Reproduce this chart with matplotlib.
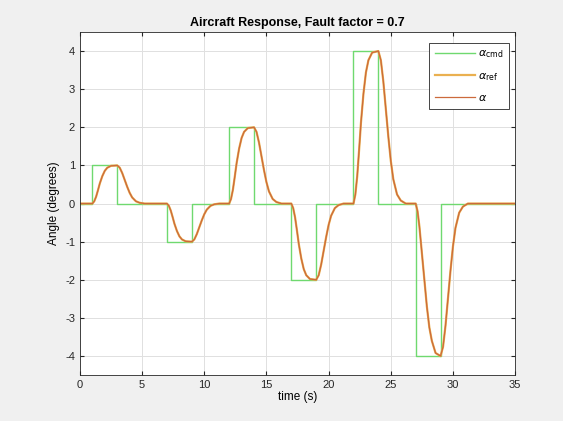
import matplotlib.pyplot as plt

# commanded angle (step pulses)
cmd_t = [0, 1, 1, 3, 3, 7, 7, 9, 9, 12, 12, 14, 14, 17, 17, 19, 19,
         22, 22, 24, 24, 27, 27, 29, 29, 35]
cmd_v = [0, 0, 1, 1, 0, 0, -1, -1, 0, 0, 2, 2, 0, 0, -2, -2, 0,
         0, 4, 4, 0, 0, -4, -4, 0, 0]

# reference model response
ref_t = [0,
         1, 1.15, 1.3, 1.45, 1.6, 1.8, 2.0, 2.2, 2.5, 3.0,
         3.2, 3.4, 3.6, 3.8, 4.0, 4.2, 4.5, 4.8, 5.2,
         7, 7.15, 7.3, 7.45, 7.6, 7.8, 8.0, 8.2, 8.5, 9.0,
         9.2, 9.4, 9.6, 9.8, 10.0, 10.2, 10.5, 10.8, 11.2,
         12, 12.15, 12.3, 12.45, 12.6, 12.8, 13.0, 13.2, 13.5, 14.0,
         14.2, 14.4, 14.6, 14.8, 15.0, 15.2, 15.5, 15.8, 16.2,
         17, 17.15, 17.3, 17.45, 17.6, 17.8, 18.0, 18.2, 18.5, 19.0,
         19.2, 19.4, 19.6, 19.8, 20.0, 20.2, 20.5, 20.8, 21.2,
         22, 22.15, 22.3, 22.45, 22.6, 22.8, 23.0, 23.2, 23.5, 24.0,
         24.2, 24.4, 24.6, 24.8, 25.0, 25.2, 25.5, 25.8, 26.2,
         27, 27.15, 27.3, 27.5, 27.7, 27.9, 28.1, 28.3, 28.6, 29.0,
         29.2, 29.4, 29.6, 29.8, 30.0, 30.2, 30.5, 30.8, 31.2,
         35]
ref_v = [0,
         0, 0.06, 0.18, 0.35, 0.53, 0.72, 0.86, 0.94, 0.99, 1.0,
         0.94, 0.8, 0.62, 0.44, 0.28, 0.16, 0.06, 0.02, 0,
         0, -0.06, -0.18, -0.35, -0.53, -0.72, -0.86, -0.94, -0.99, -1.0,
         -0.94, -0.8, -0.62, -0.44, -0.28, -0.16, -0.06, -0.02, 0,
         0, 0.12, 0.36, 0.7, 1.06, 1.44, 1.72, 1.88, 1.98, 2.0,
         1.88, 1.6, 1.24, 0.88, 0.56, 0.32, 0.12, 0.04, 0,
         0, -0.12, -0.36, -0.7, -1.06, -1.44, -1.72, -1.88, -1.98, -2.0,
         -1.88, -1.6, -1.24, -0.88, -0.56, -0.32, -0.12, -0.04, 0,
         0, 0.24, 0.72, 1.4, 2.12, 2.88, 3.44, 3.76, 3.96, 4.0,
         3.76, 3.2, 2.48, 1.76, 1.12, 0.64, 0.24, 0.08, 0,
         0, -0.2, -0.6, -1.3, -2.0, -2.7, -3.25, -3.6, -3.92, -4.0,
         -3.76, -3.2, -2.48, -1.76, -1.12, -0.64, -0.24, -0.08, 0,
         0]

# actual response sits on top of the reference
alpha_t = ref_t
alpha_v = ref_v

plt.rcParams['font.family'] = ['Liberation Sans', 'DejaVu Sans']
plt.rcParams['axes.unicode_minus'] = False

fig = plt.figure(figsize=(5.63, 4.21), dpi=100, facecolor='#f0f0f0')
ax = fig.add_axes([0.142, 0.109, 0.773, 0.815])

ax.plot(cmd_t, cmd_v, color='#6fd96f', lw=1.0, label=r'$\alpha_{\rm cmd}$')
ax.plot(ref_t, ref_v, color='#eab050', lw=1.6, label=r'$\alpha_{\rm ref}$')
ax.plot(alpha_t, alpha_v, color='#cc6a3c', lw=0.9, label=r'$\alpha$')

ax.set_xlim(0, 35)
ax.set_ylim(-4.5, 4.5)
ax.set_xticks(range(0, 36, 5))
ax.set_yticks(range(-4, 5))
ax.grid(True, color='#e0e0e0', lw=0.7)
ax.set_axisbelow(True)
ax.tick_params(direction='in', top=True, right=True, labelsize=8,
               colors='#262626', length=3)
for s in ax.spines.values():
    s.set_color('#262626')
    s.set_linewidth(0.6)

ax.set_xlabel('time (s)', fontsize=8.5, labelpad=1)
ax.set_ylabel('Angle (degrees)', fontsize=8.5)
ax.set_title('Aircraft Response, Fault factor = 0.7', fontsize=9,
             fontweight='bold', pad=4)

leg = ax.legend(loc='upper right', bbox_to_anchor=(0.986, 0.968),
                borderaxespad=0, fontsize=8, fancybox=False,
                edgecolor='#262626', framealpha=1, handlelength=3.6,
                labelspacing=0.95, handletextpad=0.3, borderpad=0.5)
leg.get_frame().set_linewidth(0.6)

fig.savefig('out.png', dpi=100, facecolor=fig.get_facecolor())
